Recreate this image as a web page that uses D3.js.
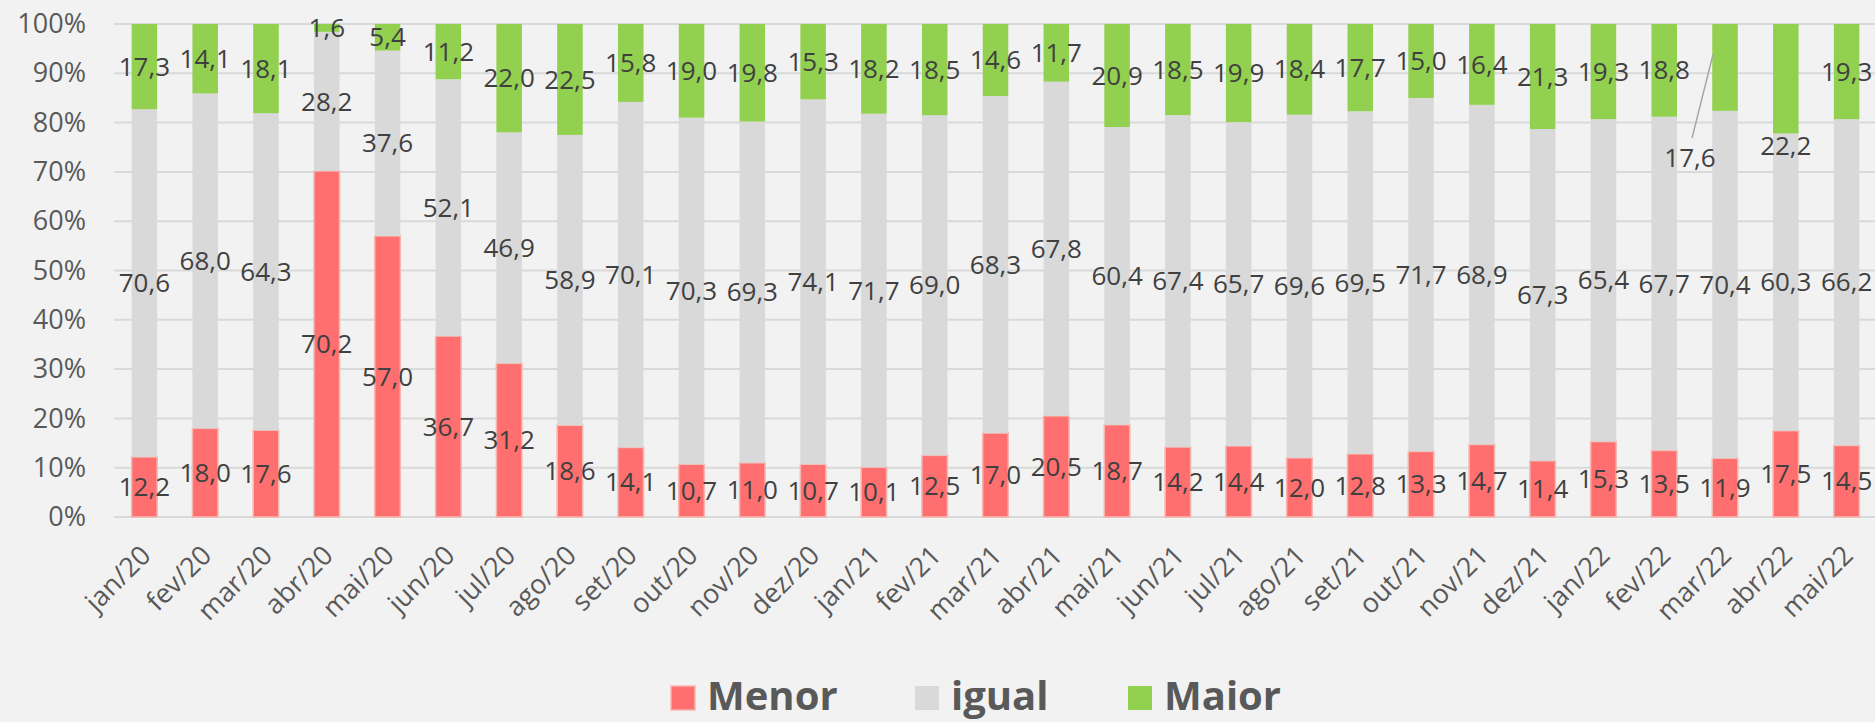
<!DOCTYPE html>
<html><head><meta charset="utf-8">
<script src="https://cdn.jsdelivr.net/npm/d3@7"></script>
<style>
html,body{margin:0;padding:0;background:#f2f2f2;}
svg{display:block;font-family:"Open Sans",sans-serif;}
</style></head>
<body>
<svg id="chart" width="1875" height="722"></svg>
<script>
const categories = ["jan/20","fev/20","mar/20","abr/20","mai/20","jun/20","jul/20","ago/20","set/20","out/20","nov/20","dez/20",
"jan/21","fev/21","mar/21","abr/21","mai/21","jun/21","jul/21","ago/21","set/21","out/21","nov/21","dez/21",
"jan/22","fev/22","mar/22","abr/22","mai/22"];
const menor = [12.2,18.0,17.6,70.2,57.0,36.7,31.2,18.6,14.1,10.7,11.0,10.7,10.1,12.5,17.0,20.5,18.7,14.2,14.4,12.0,12.8,13.3,14.7,11.4,15.3,13.5,11.9,17.5,14.5];
const igual = [70.6,68.0,64.3,28.2,37.6,52.1,46.9,58.9,70.1,70.3,69.3,74.1,71.7,69.0,68.3,67.8,60.4,67.4,65.7,69.6,69.5,71.7,68.9,67.3,65.4,67.7,70.4,60.3,66.2];
const maior = [17.3,14.1,18.1,1.6,5.4,11.2,22.0,22.5,15.8,19.0,19.8,15.3,18.2,18.5,14.6,11.7,20.9,18.5,19.9,18.4,17.7,15.0,16.4,21.3,19.3,18.8,17.6,22.2,19.3];
const seriesNames = ["Menor","igual","Maior"];
const yTicks = [0,10,20,30,40,50,60,70,80,90,100];

// manually moved data labels (position in % of the axis, x shift in px)
const labelMoves = [
  {cat:"mar/22", series:"Maior", at:0.728, dx:-35, leader:true},
  {cat:"abr/22", series:"Maior", at:0.752, dx:0, leader:false}
];

const colors = {Menor:"#ff6f6f", igual:"#d9d9d9", Maior:"#92d050"};
const strokes = {Menor:"#f6b6ae", igual:"#dcdcdc", Maior:"#92d050"};

const rows = categories.map((c,i)=>({cat:c, Menor:menor[i], igual:igual[i], Maior:maior[i]}));
const stack = d3.stack().keys(seriesNames).offset(d3.stackOffsetExpand);
const layers = stack(rows);

const svg = d3.select("#chart");
const x = d3.scaleBand().domain(categories).range([114,1877]).paddingInner(0.58).paddingOuter(0.29);
const y = d3.scaleLinear().domain([0,1]).range([517,24]);
const yPct = d3.scaleLinear().domain([0,100]).range([517,24]);

// gridlines
svg.append("g").selectAll("line").data(yTicks).join("line")
  .attr("x1",114).attr("x2",1875)
  .attr("y1",d=>yPct(d)).attr("y2",d=>yPct(d))
  .attr("stroke","#d9d9d9").attr("stroke-width",2);

// y axis labels
const yAxis = d3.axisLeft(yPct).tickValues(yTicks).tickFormat(d=>d+"%").tickSize(0).tickPadding(0);
const yg = svg.append("g").attr("transform","translate(86,0)").call(yAxis);
yg.select(".domain").remove();
yg.selectAll("text").attr("font-size",27).attr("fill","#595959").attr("font-family","Open Sans");

// bars
const bw = x.bandwidth();
layers.forEach(layer=>{
  const key = layer.key;
  svg.append("g").selectAll("rect").data(layer).join("rect")
    .attr("x",d=>x(d.data.cat))
    .attr("width",bw)
    .attr("y",d=>y(d[1]))
    .attr("height",d=>y(d[0])-y(d[1]))
    .attr("fill",colors[key])
    .attr("stroke",strokes[key]).attr("stroke-width",key==="Menor"?1.5:0);
});

// x axis labels
const xAxis = d3.axisBottom(x).tickSize(0).tickPadding(0);
const xg = svg.append("g").attr("transform","translate(0,517)").call(xAxis);
xg.select(".domain").remove();
xg.selectAll("text")
  .attr("font-size",27).attr("fill","#595959").attr("font-family","Open Sans")
  .attr("text-anchor","end").attr("dy",null).attr("y",null)
  .attr("transform","translate(8,40) rotate(-45)");

// data labels
const fmt = v=>d3.format(".1f")(v).replace(".",",");
const lab = svg.append("g").attr("font-size",26).attr("fill","#404040").attr("text-anchor","middle");
layers.forEach(layer=>{
  const key = layer.key;
  layer.forEach((d,i)=>{
    const val = rows[i][key];
    const mv = labelMoves.find(m=>m.cat===d.data.cat && m.series===key);
    const cx = x(d.data.cat)+bw/2;
    let ly = y((d[0]+d[1])/2), lx = cx;
    if(mv){
      ly = y(mv.at); lx = cx+mv.dx;
      if(mv.leader){
        svg.append("line").attr("x1",lx+2).attr("y1",ly-20).attr("x2",cx-12).attr("y2",y((d[0]+d[1])/2)-13)
          .attr("stroke","#a6a6a6").attr("stroke-width",1.5);
      }
    }
    lab.append("text").attr("x",lx).attr("y",ly).attr("dy","0.35em").text(fmt(val));
  });
});

// legend
const legendItems = [{k:"Menor",x:671},{k:"igual",x:915},{k:"Maior",x:1128}];
const lg = svg.append("g");
legendItems.forEach(it=>{
  lg.append("rect").attr("x",it.x).attr("y",686).attr("width",24).attr("height",24)
    .attr("fill",colors[it.k]).attr("stroke",it.k==="Menor"?strokes.Menor:"none").attr("stroke-width",1.5);
  lg.append("text").attr("x",it.x+36).attr("y",710).text(it.k)
    .attr("font-size",40).attr("font-weight","bold").attr("fill","#595959");
});
</script>
</body></html>
